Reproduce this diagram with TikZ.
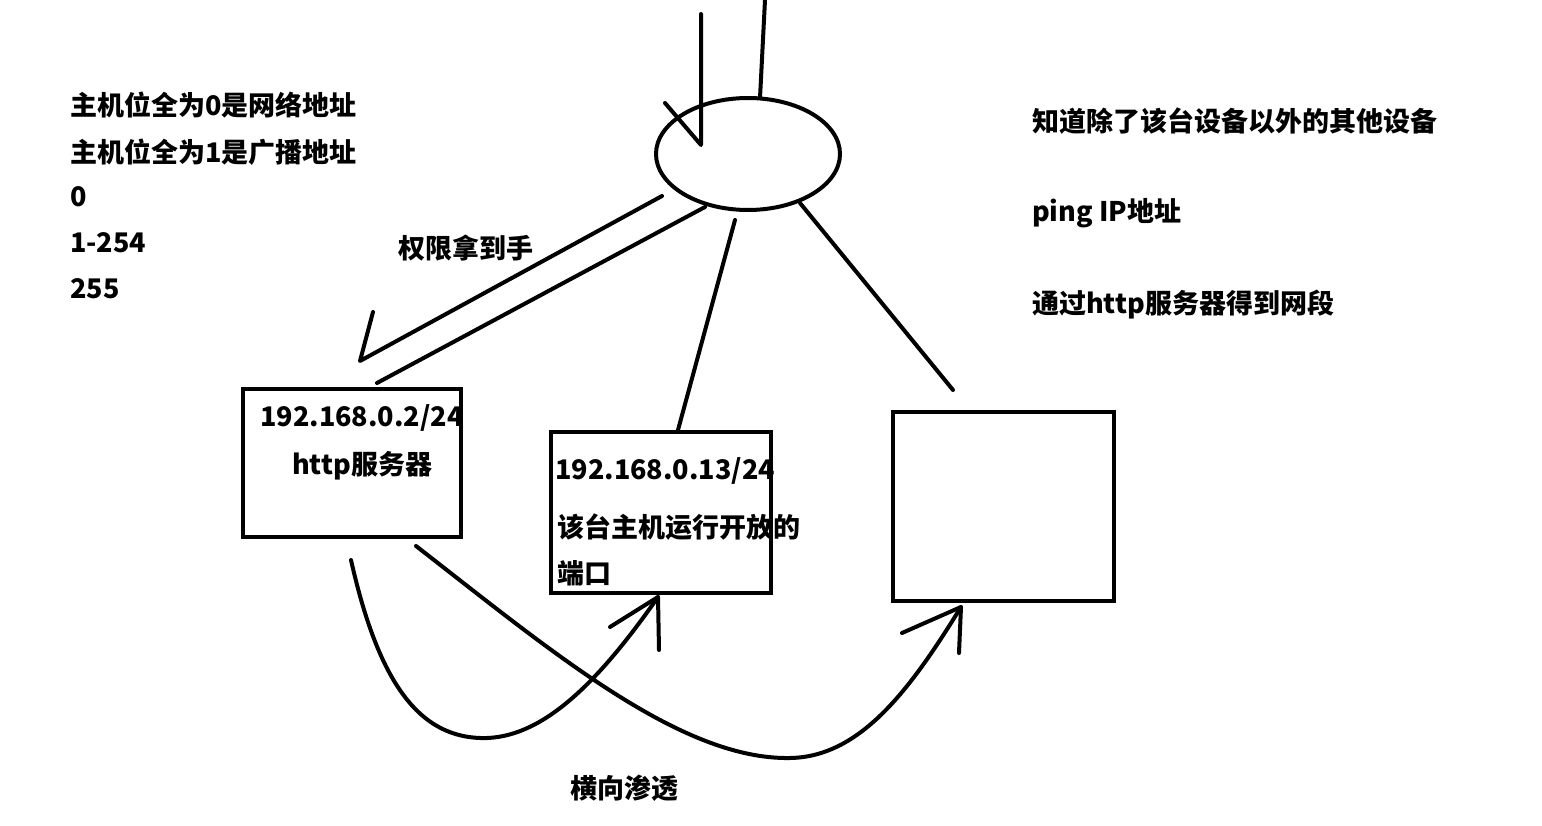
\documentclass[tikz,border=0pt]{standalone}
\usepackage{fontspec}
\newfontfamily\cjk{Noto Sans CJK SC}
\tikzset{
  stroke/.style={line width=4pt, line cap=round, line join=round},
  boxshape/.style={draw, line width=4pt, minimum width=0pt, inner sep=0pt},
  lbl/.style={anchor=west, inner sep=0pt, font=\cjk\bfseries\fontsize{27}{32}\selectfont}
}
\begin{document}
\begin{tikzpicture}[x=1pt,y=-1pt]
\useasboundingbox[fill=white] (0,0) rectangle (1542,826);

% router ellipse
\draw[stroke] (748,154) ellipse [x radius=92, y radius=56];
\node[inner sep=0pt] (router) at (748,154) {};

% boxes
\draw[stroke, line cap=butt, line join=miter] (243,389) rectangle (461,537);
\draw[stroke, line cap=butt, line join=miter] (551,432) rectangle (771,593);
\draw[stroke, line cap=butt, line join=miter] (893,412) rectangle (1114,601);
\node[inner sep=0pt] (hostA) at (352,463) {};
\node[inner sep=0pt] (hostB) at (661,512) {};
\node[inner sep=0pt] (hostC) at (1003,506) {};

% coordinates
\coordinate (inTop) at (701,14);
\coordinate (inEnd) at (701,145);
\coordinate (inHead) at (665,103);
\coordinate (outTop) at (765,0);
\coordinate (outEnd) at (760,98);

\coordinate (a1s) at (662,196);
\coordinate (a1e) at (360,361);
\coordinate (a1h) at (373,312);
\coordinate (a2s) at (705,207);
\coordinate (a2e) at (377,383);
\coordinate (a3s) at (735,220);
\coordinate (a3e) at (678,430);
\coordinate (a4s) at (800,203);
\coordinate (a4e) at (953,390);

\coordinate (c1s) at (351,560);
\coordinate (c1m) at (487,738);
\coordinate (c1e) at (658,597);
\coordinate (c1h1) at (610,627);
\coordinate (c1h2) at (659,650);
\coordinate (c2s) at (416,546);
\coordinate (c2m) at (790,758);
\coordinate (c2e) at (961,607);
\coordinate (c2h1) at (902,633);
\coordinate (c2h2) at (959,653);

% top lines
\draw[stroke] (inTop) -- (inEnd) -- (inHead);
\draw[stroke] (outTop) -- (outEnd);

% lines from router
\draw[stroke] (a1s) -- (a1e) -- (a1h);
\draw[stroke] (a2s) -- (a2e);
\draw[stroke] (a3s) -- (a3e);
\draw[stroke] (a4s) -- (a4e);

% curves
\draw[stroke] (c1s) .. controls (378,680) and (418,740) .. (c1m) .. controls (545,736) and (600,680) .. (c1e);
\draw[stroke] (c1h1) -- (c1e) -- (c1h2);
\draw[stroke] (c2s) .. controls (550,650) and (680,760) .. (c2m) .. controls (860,757) and (910,690) .. (c2e);
\draw[stroke] (c2h1) -- (c2e) -- (c2h2);

% texts
\node[lbl] (t1) at (70,105) {主机位全为0是网络地址};
\node[lbl] (t2) at (70,152) {主机位全为1是广播地址};
\node[lbl] (t3) at (70,197) {0};
\node[lbl] (t4) at (70,243) {1-254};
\node[lbl] (t5) at (70,289) {255};

\node[lbl] (r1) at (1032,121) {知道除了该台设备以外的其他设备};
\node[lbl] (r2) at (1032,213) {ping IP地址};
\node[lbl] (r3) at (1032,305) {通过http服务器得到网段};

\node[lbl] (perm) at (398,248) {权限拿到手};
\node[lbl] (lat) at (570,788) {横向渗透};

\node[lbl] (ipA) at (260,418) {192.168.0.2/24};
\node[lbl] (svA) at (292,466) {http服务器};
\node[lbl] (ipB) at (555,471) {192.168.0.13/24};
\node[lbl] (dsB1) at (557,527) {该台主机运行开放的};
\node[lbl] (dsB2) at (557,573) {端口};
\end{tikzpicture}
\end{document}
